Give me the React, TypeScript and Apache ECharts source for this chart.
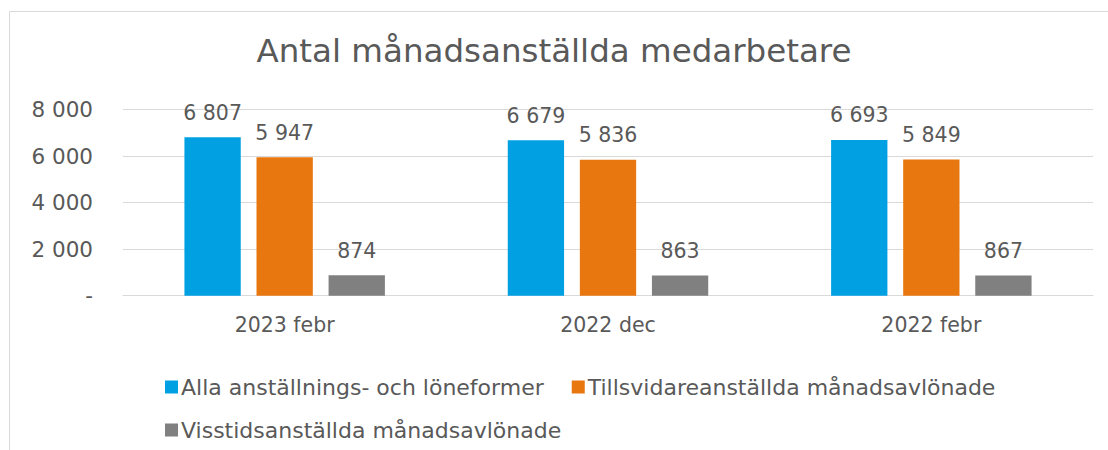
import React, { useEffect, useRef } from "react";
import * as echarts from "echarts";

const categories = ["2023 febr", "2022 dec", "2022 febr"];
const seriesNames = [
  "Alla anställnings- och löneformer",
  "Tillsvidareanställda månadsavlönade",
  "Visstidsanställda månadsavlönade",
];
const allaValues = [6807, 6679, 6693];
const tillsvidareValues = [5947, 5836, 5849];
const visstidValues = [874, 863, 867];
const colors = ["#00A0E3", "#E8770F", "#808080"];
const yTicks = { min: 0, max: 8000, interval: 2000 };

const fmt = (v: number) =>
  v === 0 ? "-" : String(Math.round(v)).replace(/\B(?=(\d{3})+(?!\d))/g, " ");

export default function App() {
  const ref = useRef<HTMLDivElement>(null);
  useEffect(() => {
    document.body.style.margin = "0";
    const chart = echarts.init(ref.current!, null, { renderer: "svg" });
    const font = "DejaVu Sans, Verdana, sans-serif";
    const textColor = "#595959";
    const data = [allaValues, tillsvidareValues, visstidValues];
    const legendText = { fontFamily: font, fontSize: 22, color: textColor, padding: [0, 0, 0, -2] };
    chart.setOption({
      animation: false,
      textStyle: { fontFamily: font },
      title: {
        text: "Antal månadsanställda medarbetare",
        left: "center",
        top: 29,
        textStyle: { fontFamily: font, fontSize: 32.5, fontWeight: "normal", color: textColor },
      },
      graphic: [
        {
          type: "rect",
          shape: { x: 9.5, y: 11.5, width: 1300, height: 600 },
          style: { fill: "none", stroke: "#d9d9d9", lineWidth: 1 },
          silent: true,
        },
      ],
      legend: [
        {
          left: 160,
          top: 371,
          itemWidth: 13,
          itemHeight: 13,
          itemGap: 28,
          icon: "rect",
          textStyle: legendText,
          data: seriesNames.slice(0, 2),
        },
        {
          left: 160,
          top: 414,
          itemWidth: 13,
          itemHeight: 13,
          icon: "rect",
          textStyle: legendText,
          data: seriesNames.slice(2),
        },
      ],
      grid: { left: 123, right: 15, top: 109.5, bottom: 154.3 },
      xAxis: {
        type: "category",
        data: categories,
        axisLine: { show: true, lineStyle: { color: "#d9d9d9" } },
        axisTick: { show: false },
        axisLabel: { fontFamily: font, fontSize: 20.5, color: textColor, margin: 19 },
      },
      yAxis: {
        type: "value",
        min: yTicks.min,
        max: yTicks.max,
        interval: yTicks.interval,
        axisLine: { show: false },
        axisTick: { show: false },
        splitLine: { lineStyle: { color: "#d9d9d9" } },
        axisLabel: { fontFamily: font, fontSize: 21.5, color: textColor, margin: 30, formatter: fmt },
      },
      series: seriesNames.map((name, i) => ({
        name,
        type: "bar",
        data: data[i],
        itemStyle: { color: colors[i] },
        barGap: "28%",
        barCategoryGap: "38%",
        label: {
          show: true,
          position: "top",
          distance: 14,
          fontFamily: font,
          fontSize: 20.5,
          color: textColor,
          formatter: (p: any) => fmt(p.value),
        },
      })),
    });
    return () => chart.dispose();
  }, []);
  return <div ref={ref} style={{ width: 1108, height: 450 }} />;
}
